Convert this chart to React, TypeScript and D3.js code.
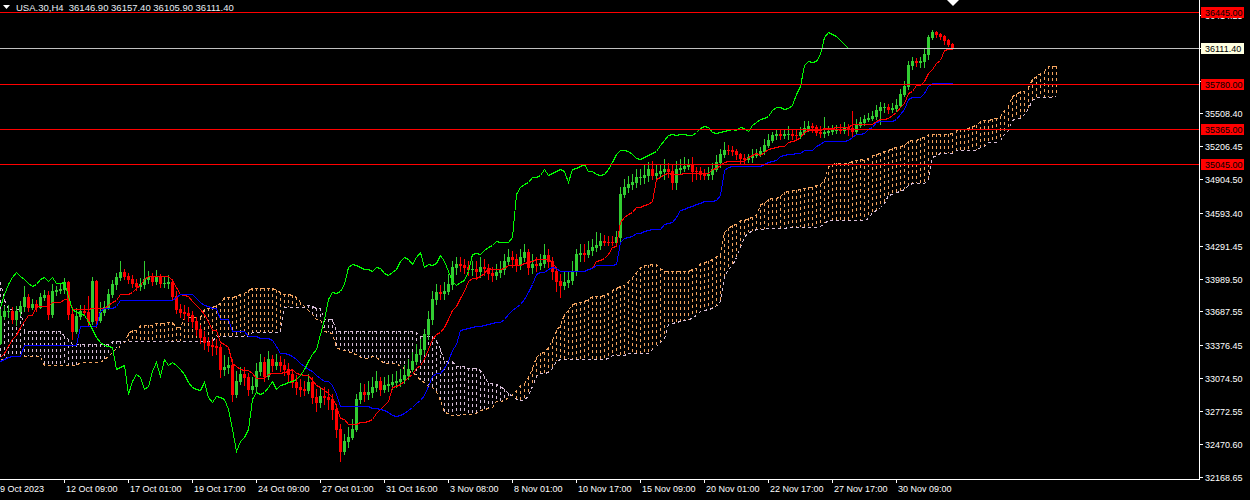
import React, { useEffect } from "react";
import * as d3 from "d3";

const firstOpen = 33400;

const closes = [
  33644, 33690, 33694, 33616, 33690, 33736, 33818, 33726, 33754, 33726,
  33818, 33837, 33662, 33874, 33883, 33892, 33956, 33662, 33506, 33644,
  33690, 33685, 33598, 33966, 33607, 33680, 33726, 33846, 33938, 34002,
  34048, 34012, 33984, 33947, 33920, 33938, 33984, 34002, 33966, 34002,
  33947, 33950, 33956, 33828, 33708, 33680, 33671, 33653, 33598, 33524,
  33450, 33404, 33377, 33368, 33358, 33156, 33174, 33193, 32926, 33046,
  33110, 33082, 32972, 33000, 33138, 33220, 33092, 33248, 33193, 33220,
  33193, 33156, 33110, 33036, 32990, 32972, 32968, 33036, 32898, 32852,
  32908, 32898, 32880, 32788, 32604, 32402, 32494, 32530, 32604, 32880,
  32944, 32926, 32944, 32990, 33046, 32972, 33009, 33018, 33036, 33046,
  33064, 33101, 33156, 33230, 33294, 33340, 33478, 33616, 33800, 33864,
  33860, 33874, 33938, 34094, 34122, 34118, 34094, 34076, 34080, 34058,
  34094, 34085, 34039, 34021, 34048, 34076, 34150, 34186, 34168, 34122,
  34186, 34232, 34094, 34122, 34113, 34131, 34205, 34150, 34058, 33966,
  33929, 33956, 33975, 34058, 34214, 34223, 34214, 34251, 34278, 34297,
  34334, 34330, 34326, 34322, 34370, 34766, 34830, 34858, 34876, 34922,
  34926, 34941, 34996, 34941, 34959, 34978, 34996, 34978, 34876, 34996,
  35005, 35024, 35042, 34978, 34974, 34950, 34946, 34950, 34996, 35060,
  35134, 35171, 35168, 35162, 35134, 35097, 35088, 35106, 35125, 35143,
  35162, 35217, 35263, 35309, 35318, 35314, 35318, 35322, 35309, 35305,
  35336, 35373, 35392, 35382, 35336, 35327, 35336, 35346, 35355, 35364,
  35360, 35382, 35373, 35346, 35401, 35428, 35456, 35465, 35484, 35539,
  35566, 35570, 35548, 35557, 35585, 35686, 35760, 35953, 35990, 35980,
  35990, 36054, 36210, 36256, 36238, 36220, 36183, 36146.9, 36111.4,
];

const highs = [
  33708, 33736, 33745, 33726, 33736, 33782, 33920, 33846, 33800, 33791,
  33855, 33883, 33874, 33938, 33920, 33938, 33993, 33966, 33726, 33717,
  33745, 33745, 33828, 34002, 33980, 33772, 33782, 33892, 33975, 34039,
  34150, 34076, 34039, 34021, 33984, 33993, 34150, 34058, 34039, 34067,
  34030, 34002, 34021, 33984, 33874, 33754, 33745, 33726, 33690, 33634,
  33561, 33506, 33450, 33432, 33432, 33386, 33285, 33266, 33248, 33138,
  33174, 33174, 33119, 33082, 33211, 33294, 33266, 33322, 33285, 33294,
  33276, 33248, 33211, 33156, 33101, 33064, 33046, 33110, 33082, 32972,
  32990, 32990, 32972, 32926, 32834, 32650, 32558, 32624, 32696, 32926,
  33027, 33018, 33046, 33082, 33138, 33082, 33082, 33101, 33110, 33138,
  33156, 33193, 33248, 33312, 33386, 33432, 33524, 33690, 33874, 33938,
  33929, 33956, 34030, 34150, 34186, 34186, 34168, 34150, 34150, 34150,
  34186, 34168, 34122, 34094, 34122, 34150, 34214, 34260, 34242, 34214,
  34260, 34306, 34260, 34214, 34186, 34214, 34306, 34260, 34186, 34094,
  34030, 34058, 34058, 34150, 34260, 34306, 34306, 34334, 34352, 34416,
  34407, 34389, 34380, 34380, 34426, 34830, 34904, 34932, 34950, 34996,
  34996, 35033, 35060, 35070, 35033, 35042, 35088, 35051, 35042, 35070,
  35088, 35106, 35088, 35106, 35014, 35014, 34996, 35014, 35051, 35125,
  35180, 35244, 35217, 35208, 35180, 35143, 35134, 35134, 35180, 35180,
  35198, 35272, 35318, 35336, 35355, 35355, 35364, 35392, 35364, 35355,
  35382, 35438, 35438, 35419, 35401, 35392, 35474, 35392, 35401, 35401,
  35410, 35428, 35410, 35530, 35456, 35474, 35493, 35511, 35530, 35585,
  35612, 35603, 35594, 35603, 35640, 35732, 35806, 35990, 36026, 36017,
  36026, 36100, 36229, 36275, 36266, 36247, 36229, 36192, 36157.4,
];

const lows = [
  33386, 33616, 33634, 33579, 33561, 33653, 33690, 33690, 33708, 33690,
  33717, 33791, 33616, 33634, 33837, 33855, 33855, 33616, 33432, 33487,
  33616, 33653, 33552, 33570, 33542, 33588, 33653, 33708, 33818, 33892,
  33975, 33984, 33947, 33910, 33883, 33883, 33901, 33947, 33929, 33938,
  33910, 33910, 33901, 33800, 33671, 33634, 33616, 33598, 33542, 33469,
  33395, 33340, 33322, 33285, 33294, 33082, 33101, 33119, 32862, 32898,
  33018, 33009, 32917, 32935, 32954, 33101, 33046, 33064, 33138, 33156,
  33138, 33101, 33046, 32990, 32926, 32908, 32917, 32935, 32843, 32770,
  32806, 32834, 32788, 32696, 32530, 32310, 32374, 32438, 32512, 32586,
  32843, 32862, 32880, 32898, 32954, 32917, 32944, 32954, 32972, 32990,
  33000, 33027, 33064, 33138, 33202, 33248, 33294, 33432, 33570, 33754,
  33800, 33800, 33846, 33892, 34030, 34058, 34039, 34021, 34021, 33984,
  34002, 34021, 33984, 33966, 33984, 34002, 34030, 34113, 34094, 34058,
  34076, 34150, 34030, 34039, 34058, 34076, 34094, 34094, 33984, 33874,
  33818, 33892, 33910, 33938, 34021, 34150, 34150, 34186, 34205, 34242,
  34260, 34297, 34297, 34297, 34297, 34334, 34738, 34784, 34812, 34830,
  34858, 34867, 34886, 34904, 34886, 34922, 34904, 34922, 34812, 34812,
  34950, 34978, 34996, 34886, 34904, 34904, 34904, 34904, 34904, 34978,
  35014, 35106, 35134, 35125, 35088, 35042, 35042, 35060, 35060, 35106,
  35116, 35134, 35198, 35244, 35272, 35272, 35281, 35272, 35272, 35272,
  35281, 35318, 35346, 35336, 35309, 35290, 35290, 35309, 35318, 35327,
  35327, 35327, 35309, 35300, 35327, 35382, 35401, 35438, 35447, 35456,
  35410, 35520, 35511, 35520, 35530, 35566, 35668, 35732, 35916, 35944,
  35934, 35934, 36008, 36192, 36210, 36192, 36146, 36128, 36105.9,
];

// Indicator values before enough history is on screen
const tenkanEarly = [33266, 33303, 33368, 33432, 33469, 33542, 33598, 33653];
const kijunEarly = [
  33230, 33248, 33266, 33276, 33276, 33276, 33377, 33377, 33377, 33377,
  33377, 33377, 33377, 33377, 33377, 33377, 33377, 33377, 33377, 33377,
  33552, 33552, 33552, 33552, 33552,
];
const spanAEarly = [
  33248, 33248, 33276, 33276, 33276, 33276, 33276, 33276, 33276, 33276,
  33276, 33193, 33193, 33193, 33193, 33193, 33193, 33193, 33193, 33193,
  33220, 33220, 33220, 33220, 33220, 33220,
];
const spanBEarly = [
  33956, 33800, 33708, 33708, 33708, 33708, 33506, 33506, 33506, 33506,
  33506, 33506, 33506, 33506, 33506, 33506, 33460, 33432, 33386, 33386,
  33386, 33386, 33386, 33386, 33386, 33386, 33386, 33386, 33414, 33414,
  33414, 33414, 33414, 33414, 33414, 33414, 33414, 33414, 33414, 33414,
  33414, 33414, 33414, 33414, 33414, 33414, 33414, 33414, 33414, 33414,
  33414, 33414, 33414, 33414, 33460, 33460, 33460, 33460, 33460, 33460,
  33460, 33460, 33460, 33496, 33496, 33496, 33496, 33496, 33496, 33496,
  33496, 33726, 33726, 33726, 33726, 33726, 33726,
];

const yTickLabels = [
  "36414.25", "36112.30", "35810.35", "35508.40", "35206.45", "34904.50",
  "34593.40", "34291.45", "33989.50", "33687.55", "33376.45", "33074.50",
  "32772.55", "32470.60", "32168.65",
];
const xTickLabels = [
  "12 Oct 09:00", "17 Oct 01:00", "19 Oct 17:00", "24 Oct 09:00", "27 Oct 01:00",
  "31 Oct 16:00", "3 Nov 08:00", "8 Nov 01:00", "10 Nov 17:00", "15 Nov 09:00",
  "20 Nov 01:00", "22 Nov 17:00", "27 Nov 17:00", "30 Nov 09:00",
];
const firstDateLabel = "9 Oct 2023";
const redLevels = [36445, 35780, 35365, 35045];
const bidLevel = 36111.4;
const symbolTitle = "USA.30,H4  36146.90 36157.40 36105.90 36111.40";

const BULL = "#32CD32";
const BEAR = "#FF0000";
const FONT = "'Liberation Sans', Arial, sans-serif";

export default function App() {
  useEffect(() => {
    document.body.style.margin = "0";
    document.body.style.background = "#000";
  }, []);

  const yS = d3.scaleLinear().domain([32168.65, 36445]).range([477.05, 12.02]);
  const xS = d3.scaleLinear().domain([0, 300]).range([0, 1200]);
  const py = (v: number) => Math.floor(yS(v));

  const n = closes.length;
  const opens = closes.map((c, i) => (i === 0 ? firstOpen : closes[i - 1]));
  const mid = (i: number, p: number) => {
    const a = Math.max(0, i - p + 1);
    return ((d3.max(highs.slice(a, i + 1)) as number) + (d3.min(lows.slice(a, i + 1)) as number)) / 2;
  };
  const tenkan = closes.map((_, i) => (i < 8 ? tenkanEarly[i] : mid(i, 9)));
  const kijun = closes.map((_, i) => (i < 25 ? kijunEarly[i] : mid(i, 26)));
  const spanA = d3.range(n + 26).map((j) => (j < 26 ? spanAEarly[j] : (tenkan[j - 26] + kijun[j - 26]) / 2));
  const spanB = d3.range(n + 26).map((j) => (j < 77 ? spanBEarly[j] : mid(j - 26, 52)));
  const chikou = closes.slice(26);

  const line = d3
    .line<number>()
    .x((_, i) => xS(i) + 0.5)
    .y((v) => py(v) + 0.5);

  return (
    <svg width={1250} height={500} style={{ position: "absolute", left: 0, top: 0, display: "block" }}>
      <defs>
        <clipPath id="plot">
          <rect x={0} y={0} width={1199} height={479} />
        </clipPath>
      </defs>
      <rect x={0} y={0} width={1250} height={500} fill="#000" />
      <g clipPath="url(#plot)">
        {/* cloud hatching */}
        {spanA.map((a, j) => {
          const b = spanB[j];
          const ya = py(a);
          const yb = py(b);
          if (ya === yb) return null;
          const top = Math.min(ya, yb);
          const bot = Math.max(ya, yb);
          return (
            <line
              key={"h" + j}
              x1={xS(j) + 0.5}
              x2={xS(j) + 0.5}
              y1={top}
              y2={bot}
              stroke={a > b ? "#F4A460" : "#D8BFD8"}
              strokeWidth={1}
              strokeDasharray="3 3"
              shapeRendering="crispEdges"
            />
          );
        })}
        <path d={line(spanA) || ""} fill="none" stroke="#F4A460" strokeWidth={1} strokeDasharray="3 3" shapeRendering="crispEdges" />
        <path d={line(spanB) || ""} fill="none" stroke="#D8BFD8" strokeWidth={1} strokeDasharray="3 3" shapeRendering="crispEdges" />

        {/* candles */}
        {closes.map((c, i) => {
          const o = opens[i];
          const bull = c >= o;
          const col = bull ? BULL : BEAR;
          const yh = py(highs[i]);
          const yl = py(lows[i]);
          const yt = py(Math.max(o, c));
          const yb = py(Math.min(o, c));
          const x0 = xS(i);
          return (
            <g key={"c" + i} shapeRendering="crispEdges" fill={col}>
              <rect x={x0} y={yh} width={1} height={Math.max(1, yl - yh + 1)} />
              <rect x={x0 - 1} y={yt} width={3} height={Math.max(1, yb - yt + 1)} />
            </g>
          );
        })}

        <path d={line(tenkan) || ""} fill="none" stroke="#FF0000" strokeWidth={1} shapeRendering="crispEdges" />
        <path d={line(kijun) || ""} fill="none" stroke="#0000FF" strokeWidth={1} shapeRendering="crispEdges" />
        <path d={line(chikou) || ""} fill="none" stroke="#00FF00" strokeWidth={1} shapeRendering="crispEdges" />

        {/* horizontal levels */}
        {redLevels.map((p) => (
          <line key={"lv" + p} x1={0} x2={1199} y1={py(p) + 0.5} y2={py(p) + 0.5} stroke="#FF0000" strokeWidth={1} shapeRendering="crispEdges" />
        ))}
        <line x1={0} x2={1199} y1={py(bidLevel) + 0.5} y2={py(bidLevel) + 0.5} stroke="#C0C0C0" strokeWidth={1} shapeRendering="crispEdges" />
      </g>

      {/* axes */}
      <line x1={1199.5} x2={1199.5} y1={0} y2={480} stroke="#fff" strokeWidth={1} shapeRendering="crispEdges" />
      <line x1={0} x2={1200} y1={479.5} y2={479.5} stroke="#fff" strokeWidth={1} shapeRendering="crispEdges" />
      {yTickLabels.map((t) => {
        const yy = py(+t);
        return (
          <g key={"yt" + t}>
            <line x1={1199} x2={1203} y1={yy + 0.5} y2={yy + 0.5} stroke="#fff" shapeRendering="crispEdges" />
            <text x={1205} y={yy + 4} fill="#fff" fontFamily={FONT} fontSize={9}>
              {t}
            </text>
          </g>
        );
      })}
      {xTickLabels.map((t, m) => {
        const xx = xS(16 * (m + 1));
        return (
          <g key={"xt" + t}>
            <line x1={xx + 0.5} x2={xx + 0.5} y1={479} y2={483} stroke="#fff" shapeRendering="crispEdges" />
            <text x={xx + 2} y={492} fill="#fff" fontFamily={FONT} fontSize={9}>
              {t}
            </text>
          </g>
        );
      })}
      <text x={0} y={492} fill="#fff" fontFamily={FONT} fontSize={9}>
        {firstDateLabel}
      </text>

      {/* level labels */}
      {redLevels.map((p) => {
        const yy = py(p);
        return (
          <g key={"lb" + p}>
            <rect x={1201} y={yy - 5} width={43} height={11} fill="#FF0000" />
            <text x={1205} y={yy + 4} fill="#000" fontFamily={FONT} fontSize={9}>
              {p.toFixed(2)}
            </text>
          </g>
        );
      })}
      <rect x={1201} y={py(bidLevel) - 5} width={43} height={11} fill="#FFFFE0" />
      <text x={1205} y={py(bidLevel) + 4} fill="#000" fontFamily={FONT} fontSize={9}>
        {bidLevel.toFixed(2)}
      </text>

      {/* title */}
      <polygon points="3,5 10,5 6.5,9" fill="#fff" />
      <text x={16} y={10.5} fill="#e8eef4" fontFamily={FONT} fontSize={9.5}>
        {symbolTitle.replace(/ /g, "\u00a0")}
      </text>
      <polygon points={`${xS(238) - 5},0 ${xS(238) + 7},0 ${xS(238) + 1},6`} fill="#fff" />
    </svg>
  );
}
